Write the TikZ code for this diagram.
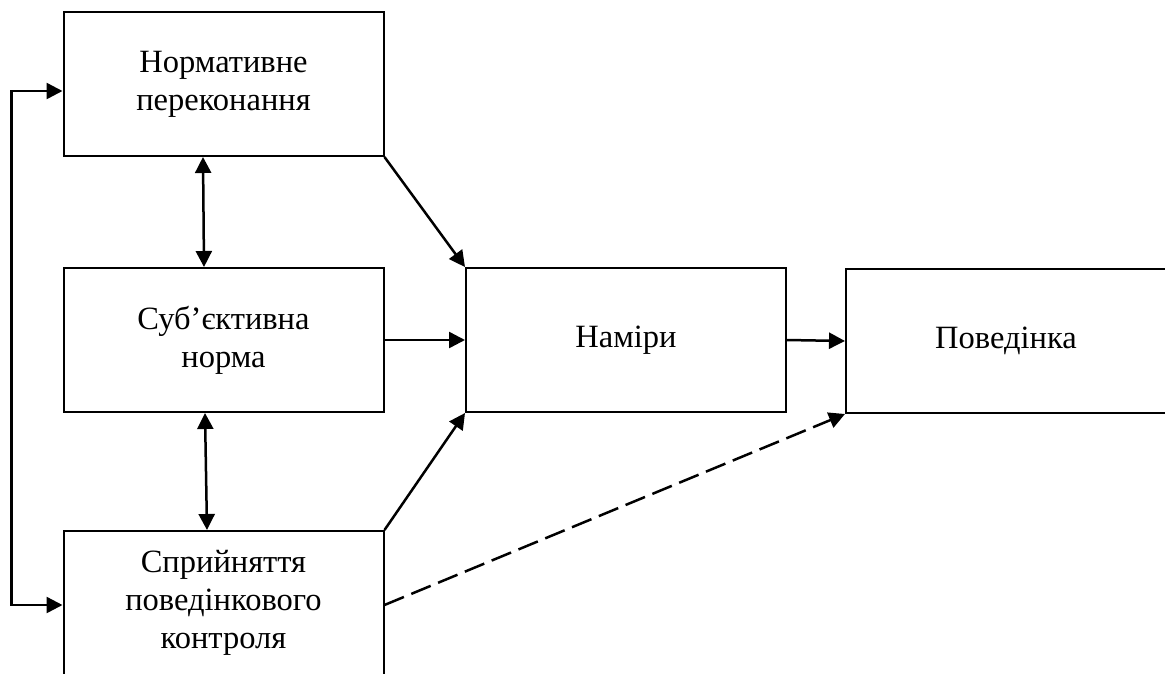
\documentclass[tikz,border=0pt]{standalone}
\usepackage{fontspec}
\setmainfont{Liberation Serif}
\usetikzlibrary{arrows.meta}
\begin{document}
\begin{tikzpicture}[x=1pt,y=1pt,
  box/.style={draw=black, line width=2pt, rectangle, minimum width=320pt,
    minimum height=144pt, inner sep=0pt, align=center,
    font=\fontsize{32.5}{38}\selectfont},
  tip/.tip={Triangle[length=16pt,width=16pt]},
  link/.style={line width=2.5pt, -tip},
  both/.style={line width=2.5pt, tip-tip},
  dashlink/.style={link, dash pattern=on 21pt off 8pt}]
\useasboundingbox (0,0) rectangle (1165,-673);
\fill[white] (0,0) rectangle (1165,-673);

\node[box] (norm)  at (223.5,-84)  {Нормативне\\переконання};
\node[box] (subj)  at (223.5,-340) {Суб’єктивна\\норма};
\node[box] (ctrl)  at (223.5,-603) {Сприйняття\\поведінкового\\контроля};
\node[box] (intent) at (626,-340)  {Наміри};
\node[box] (behav) at (1006,-341)  {Поведінка};

% links between the attitude boxes
\draw[both] ([xshift=-20.5pt]norm.south) -- ([xshift=-19.5pt]subj.north);
\draw[both] ([xshift=-18.5pt]subj.south) -- ([xshift=-16.5pt]ctrl.north);
\draw[both] ([yshift=-7pt]norm.west) -- ++(-51pt,0) |- ([yshift=-2pt]ctrl.west);

% links into intention and behaviour
\draw[link] (norm.south east) -- (intent.north west);
\draw[link] (subj.east) -- (intent.west);
\draw[link] (ctrl.north east) -- (intent.south west);
\draw[link] (intent.east) -- (behav.west);
\draw[dashlink] ([yshift=-2pt]ctrl.east) -- (behav.south west);
\end{tikzpicture}
\end{document}
